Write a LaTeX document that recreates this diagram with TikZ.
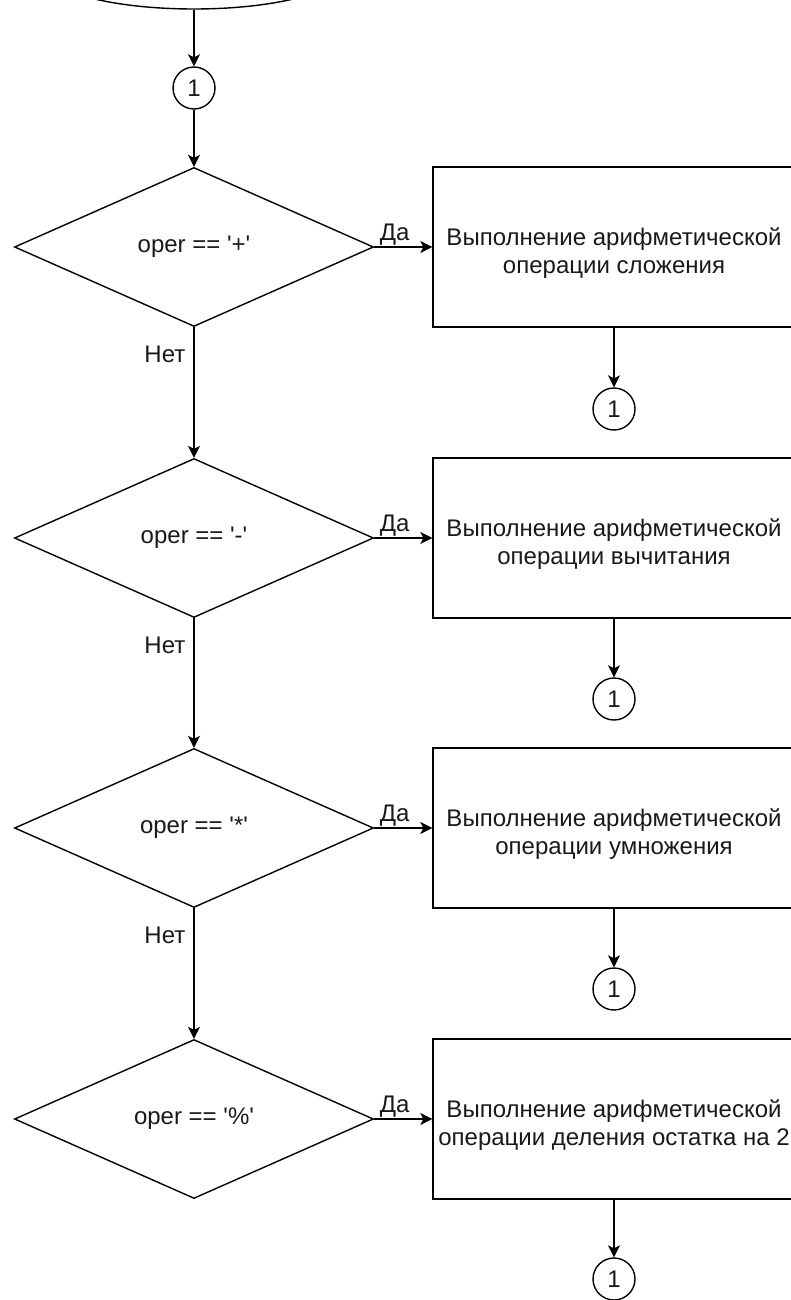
\documentclass[tikz,border=0pt]{standalone}
\usepackage{fontspec}
\setmainfont{Liberation Sans}[Ligatures=TeXOff]
\usetikzlibrary{shapes.geometric,arrows.meta,calc}
\newcommand{\toppad}{\rule{0pt}{30pt}}
\begin{document}
\begin{tikzpicture}[x=1pt,y=-1pt,
  every node/.style={font=\fontsize{24}{28}\selectfont, text=black!90},
  line/.style={draw=black, line width=1.4pt},
  arr/.style={line, -{Stealth[length=12pt,width=12pt,inset=3pt]}},
  dec/.style={diamond, draw, line width=1.4pt, minimum width=359pt, minimum height=159pt, inner sep=0pt},
  proc/.style={rectangle, draw, line width=1.4pt, minimum width=362pt, minimum height=160pt, align=center, inner sep=0pt},
  conn/.style={circle, draw, line width=1.4pt, minimum size=42pt, inner sep=0pt},
  yes/.style={inner sep=0pt, anchor=south west, pos=0, xshift=5pt, yshift=1pt},
  no/.style={inner sep=0pt, anchor=north east, pos=0, xshift=-8pt, yshift=-18pt},
]
\useasboundingbox (0,0) rectangle (791,1300);

\node[ellipse, draw, line width=1.4pt, minimum width=300pt, minimum height=80pt] (start) at (194,-31) {};
\node[conn] (c0) at (194,88) {1};

\node[dec] (d1) at (194,247) {oper == '+'};
\node[dec] (d2) at (194,538) {oper == '-'};
\node[dec] (d3) at (194,828) {oper == '*'};
\node[dec] (d4) at (194,1119) {oper == '\%'};

\node[proc] (r1) at (614,247) {\toppad Выполнение арифметической\\операции сложения};
\node[proc] (r2) at (614,538) {\toppad Выполнение арифметической\\операции вычитания};
\node[proc] (r3) at (614,828) {\toppad Выполнение арифметической\\операции умножения};
\node[proc] (r4) at (614,1119) {\toppad Выполнение арифметической\\операции деления остатка на 2};

\node[conn] (c1) at (614,409) {1};
\node[conn] (c2) at (614,699) {1};
\node[conn] (c3) at (614,989) {1};
\node[conn] (c4) at (614,1279) {1};

\draw[arr] (start.south) -- (c0.north);
\draw[arr] (c0) -- (d1);

\draw[arr] (d1.east) -- node[yes] {Да} (r1.west);
\draw[arr] (d2.east) -- node[yes] {Да} (r2.west);
\draw[arr] (d3.east) -- node[yes] {Да} (r3.west);
\draw[arr] (d4.east) -- node[yes] {Да} (r4.west);

\draw[arr] (d1.south) -- node[no] {Нет} (d2.north);
\draw[arr] (d2.south) -- node[no] {Нет} (d3.north);
\draw[arr] (d3.south) -- node[no] {Нет} (d4.north);

\draw[arr] (r1.south) -- (c1.north);
\draw[arr] (r2.south) -- (c2.north);
\draw[arr] (r3.south) -- (c3.north);
\draw[arr] (r4.south) -- (c4.north);
\end{tikzpicture}
\end{document}
